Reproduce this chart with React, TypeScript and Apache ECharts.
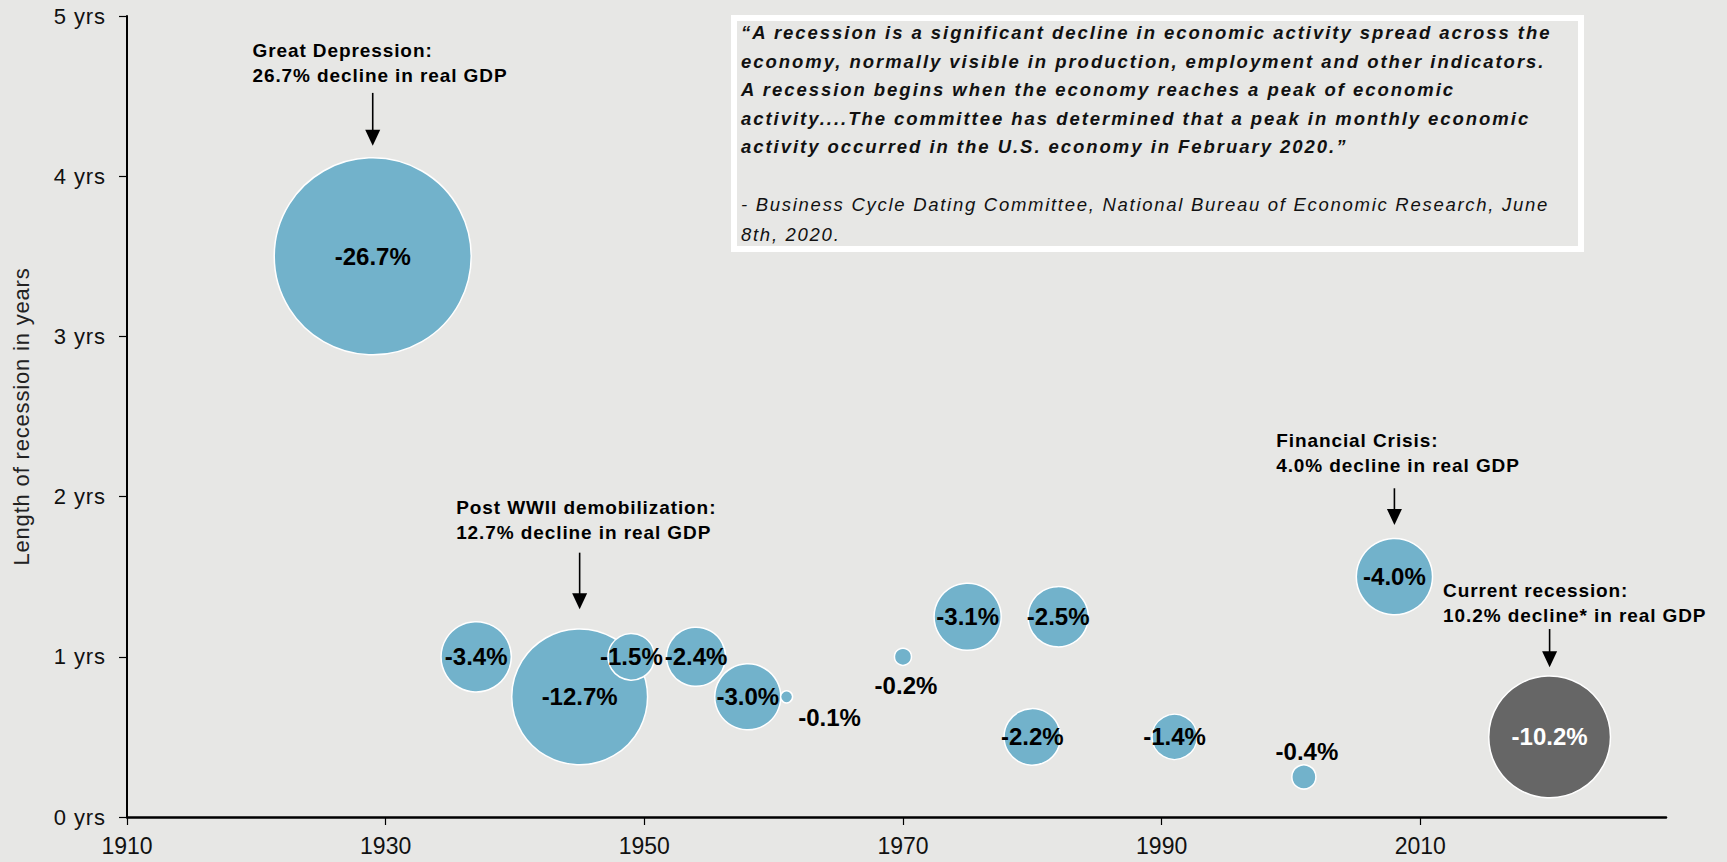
import React, { useEffect, useRef } from 'react';
import * as echarts from 'echarts';

// ---------- data ----------
const years = [1929, 1937, 1945, 1949, 1954, 1958, 1961, 1970, 1975, 1980, 1982, 1991, 2001, 2008, 2020];
const lengthYrs = [3.5, 1.0, 0.75, 1.0, 1.0, 0.75, 0.75, 1.0, 1.25, 0.5, 1.25, 0.5, 0.25, 1.5, 0.5];
const gdpDecline = [-26.7, -3.4, -12.7, -1.5, -2.4, -3.0, -0.1, -0.2, -3.1, -2.2, -2.5, -1.4, -0.4, -4.0, -10.2];
const currentYear = 2020;
const xTicks = [1910, 1930, 1950, 1970, 1990, 2010];
const yTickLabels = ['0 yrs', '1 yrs', '2 yrs', '3 yrs', '4 yrs', '5 yrs'];
const yAxisTitle = 'Length of recession in years';

const quoteLines = [
  '\u201CA recession is a significant decline in economic activity spread across the',
  'economy, normally visible in production, employment and other indicators.',
  'A recession begins when the economy reaches a peak of economic',
  'activity....The committee has determined that a peak in monthly economic',
  'activity occurred in the U.S. economy in February 2020.\u201D',
];
const attributionLines = [
  '- Business Cycle Dating Committee, National Bureau of Economic Research, June',
  '8th, 2020.',
];

const annotationTexts = [
  ['Great Depression:', '26.7% decline in real GDP'],
  ['Post WWII demobilization:', '12.7% decline in real GDP'],
  ['Financial Crisis:', '4.0% decline in real GDP'],
  ['Current recession:', '10.2% decline* in real GDP'],
];

// ---------- layout (positions / styles) ----------
const FONT = '"Liberation Sans", Arial, Helvetica, sans-serif';
const BLUE = '#72B2CB';
const DARK = '#666666';
const BG = '#E7E7E5';
const MAX_DIAM = 197;

// annotation placement in data coordinates
const annotationLayout = [
  { textYear: 1919.7, textYrs: 4.742, arrowYear: 1929, arrowFrom: 4.52, arrowTo: 4.19 },
  { textYear: 1935.45, textYrs: 1.888, arrowYear: 1945, arrowFrom: 1.65, arrowTo: 1.297 },
  { textYear: 1998.86, textYrs: 2.308, arrowYear: 2008, arrowFrom: 2.052, arrowTo: 1.823 },
  { textYear: 2011.76, textYrs: 1.371, arrowYear: 2020, arrowFrom: 1.1735, arrowTo: 0.9345 },
];
const labelOffsets: Record<number, number[]> = { 1961: [43, 21], 1970: [3, 29], 2001: [3, -25] };

const ANN_F = 19;
const ANN_LH = 24.4;
const ANN_TARGET = 255; // width of "26.7% decline in real GDP"
const Q_F = 18.5;
const Q_X = 741;
const Q_BASE = [39.3, 67.7, 96.1, 124.5, 152.9];
const A_BASE = [211, 240.5];
const Q_TARGET = 811;
const A_TARGET = 808;
const YTITLE_TARGET = 298;
const YTITLE_F = 22;
const YLABEL_SP = 0.9;

function measure(text: string, font: string) {
  const c = document.createElement('canvas').getContext('2d')!;
  c.font = font;
  return c.measureText(text).width;
}

export default function App() {
  const ref = useRef<HTMLDivElement>(null);

  useEffect(() => {
    const el = ref.current!;
    const chart = echarts.init(el, null, { renderer: 'svg' });
    const maxAbs = Math.max(...gdpDecline.map((d) => Math.abs(d)));

    const data = years.map((y, i) => {
      const d = gdpDecline[i];
      const isCurrent = y === currentYear;
      const off = labelOffsets[y];
      const item: any = {
        value: [y, lengthYrs[i], d],
        symbolSize: MAX_DIAM * Math.sqrt(Math.abs(d) / maxAbs),
        itemStyle: { color: isCurrent ? DARK : BLUE },
      };
      if (off) item.label = { offset: off };
      if (isCurrent) item.label = { color: '#ffffff' };
      return item;
    });

    chart.setOption({
      animation: false,
      backgroundColor: BG,
      textStyle: { fontFamily: FONT },
      grid: { left: 127, top: 16, right: 61, bottom: 45, outerBoundsMode: 'none' },
      xAxis: {
        type: 'value',
        min: 1910,
        max: 2029,
        splitLine: { show: false },
        axisLine: { show: true, onZero: false, lineStyle: { color: '#000', width: 2.5 } },
        axisTick: { show: true, customValues: xTicks, length: 8, lineStyle: { color: '#000', width: 1.2 } },
        axisLabel: {
          customValues: xTicks,
          margin: 17,
          fontSize: 23,
          color: '#111',
          fontFamily: FONT,
          formatter: (v: number) => String(v),
        },
      },
      yAxis: {
        type: 'value',
        min: 0,
        max: 5,
        interval: 1,
        name: yAxisTitle,
        nameLocation: 'middle',
        nameGap: 95,
        nameTextStyle: { fontSize: YTITLE_F, color: '#222', fontFamily: FONT },
        splitLine: { show: false },
        axisLine: { show: true, lineStyle: { color: '#000', width: 2 } },
        axisTick: { show: true, length: 8, lineStyle: { color: '#000', width: 1.2 } },
        axisLabel: {
          margin: 21,
          fontSize: 22,
          color: '#111',
          fontFamily: FONT,
          formatter: (v: number) => yTickLabels[Math.round(v)] ?? '',
        },
      },
      series: [
        {
          type: 'scatter',
          silent: true,
          emphasis: { disabled: true },
          data,
          itemStyle: { borderColor: '#ffffff', borderWidth: 1.5, opacity: 1 },
          label: {
            show: true,
            position: 'inside',
            fontSize: 24,
            fontWeight: 'bold',
            color: '#000',
            fontFamily: FONT,
            formatter: (p: any) => p.value[2].toFixed(1) + '%',
          },
        },
      ],
    });

    const toPx = (x: number, y: number) => chart.convertToPixel({ gridIndex: 0 }, [x, y]) as number[];
    const graphics: any[] = [];
    const spacing = new Map<string, number>();

    // y-axis texts spacing
    const ytFont = `${YTITLE_F}px ${FONT}`;
    spacing.set(yAxisTitle, (YTITLE_TARGET - measure(yAxisTitle, ytFont)) / yAxisTitle.length);
    yTickLabels.forEach((t) => spacing.set(t, YLABEL_SP));

    // quote box
    graphics.push({
      type: 'rect',
      silent: true,
      shape: { x: 734, y: 18, width: 847, height: 231 },
      style: { fill: 'none', stroke: '#ffffff', lineWidth: 6 },
    });
    const qFont = `italic bold ${Q_F}px ${FONT}`;
    const qSp = (Q_TARGET - measure(quoteLines[0], qFont)) / quoteLines[0].length;
    quoteLines.forEach((t, i) => {
      spacing.set(t, qSp);
      graphics.push({
        type: 'text',
        silent: true,
        x: Q_X,
        y: Q_BASE[i] - 0.3465 * Q_F,
        style: { text: t, font: qFont, fill: '#111', textAlign: 'left', textVerticalAlign: 'middle' },
      });
    });
    const aFont = `italic ${Q_F}px ${FONT}`;
    const aSp = (A_TARGET - measure(attributionLines[0], aFont)) / attributionLines[0].length;
    attributionLines.forEach((t, i) => {
      spacing.set(t, aSp);
      graphics.push({
        type: 'text',
        silent: true,
        x: Q_X,
        y: A_BASE[i] - 0.3465 * Q_F,
        style: { text: t, font: aFont, fill: '#111', textAlign: 'left', textVerticalAlign: 'middle' },
      });
    });

    // annotations
    const annFont = `bold ${ANN_F}px ${FONT}`;
    const annSp = (ANN_TARGET - measure(annotationTexts[0][1], annFont)) / annotationTexts[0][1].length;
    annotationLayout.forEach((a, k) => {
      const [tx, ty] = toPx(a.textYear, a.textYrs);
      annotationTexts[k].forEach((t, j) => {
        spacing.set(t, annSp);
        graphics.push({
          type: 'text',
          silent: true,
          x: tx,
          y: ty + j * ANN_LH - 0.3465 * ANN_F,
          style: { text: t, font: annFont, fill: '#000', textAlign: 'left', textVerticalAlign: 'middle' },
        });
      });
      const [ax, ay0] = toPx(a.arrowYear, a.arrowFrom);
      const [, ay1] = toPx(a.arrowYear, a.arrowTo);
      graphics.push({
        type: 'line',
        silent: true,
        shape: { x1: ax, y1: ay0, x2: ax, y2: ay1 - 12 },
        style: { stroke: '#000', lineWidth: 1.6 },
      });
      graphics.push({
        type: 'polygon',
        silent: true,
        shape: { points: [[ax - 7.5, ay1 - 16], [ax + 7.5, ay1 - 16], [ax, ay1]] },
        style: { fill: '#000' },
      });
    });

    chart.setOption({ graphic: graphics });

    const applySpacing = () => {
      el.querySelectorAll('text').forEach((node) => {
        const s = spacing.get(node.textContent || '');
        if (s != null && isFinite(s) && s > 0) node.setAttribute('letter-spacing', s.toFixed(2));
      });
    };
    applySpacing();
    chart.on('finished', applySpacing);

    return () => {
      chart.dispose();
    };
  }, []);

  return <div ref={ref} style={{ position: 'absolute', left: 0, top: 0, width: 1727, height: 862 }} />;
}
